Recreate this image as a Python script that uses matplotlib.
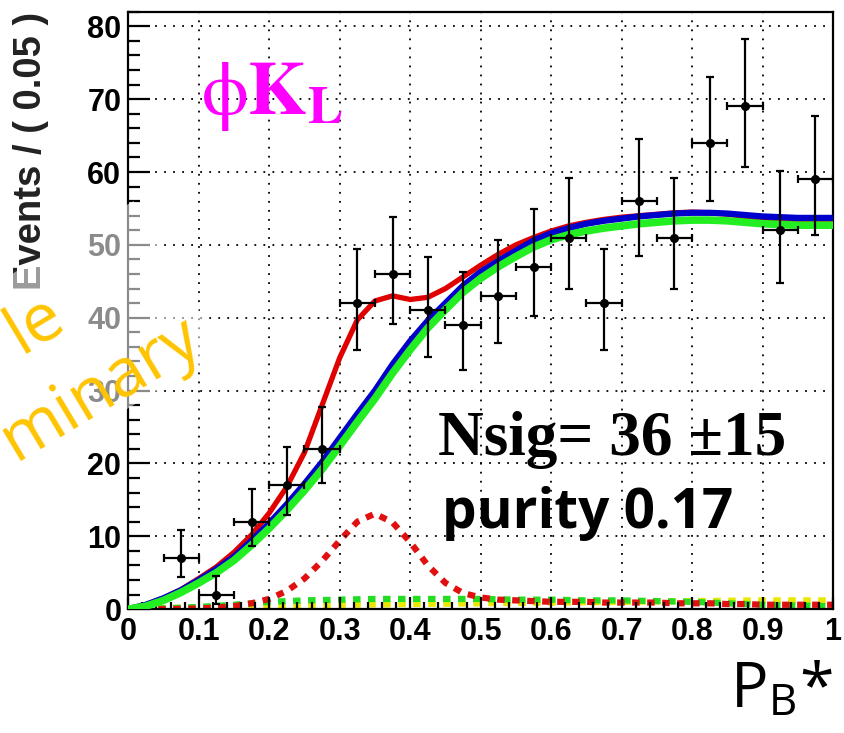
import numpy as np
import matplotlib.pyplot as plt
from matplotlib.patches import Rectangle
from matplotlib.ticker import MultipleLocator

plt.rcParams['mathtext.fontset'] = 'stix'

# binned data, bin width 0.05
bin_centres = [0.075, 0.125, 0.175, 0.225, 0.275, 0.325, 0.375, 0.425, 0.475,
               0.525, 0.575, 0.625, 0.675, 0.725, 0.775, 0.825, 0.875, 0.925, 0.975]
n_events = [7, 2, 12, 17, 22, 42, 46, 41, 39, 43, 47, 51, 42, 56, 51, 64, 69, 52, 59]
err_lo = [2.6, 1.3, 3.4, 4.1, 4.7, 6.5, 6.8, 6.4, 6.2, 6.5, 6.8, 7.1, 6.5, 7.5, 7.1, 8.0, 8.3, 7.2, 7.7]
err_hi = [3.8, 2.6, 4.5, 5.2, 5.8, 7.5, 7.8, 7.4, 7.3, 7.6, 7.9, 8.2, 7.5, 8.5, 8.2, 9.0, 9.3, 8.2, 8.7]

# fit projections sampled every 0.025
x_fit = np.round(np.arange(0, 1.0001, 0.025), 3)
total_fit = [0.0, 0.6, 1.5, 2.7, 4.2, 5.8, 7.8, 10.2, 13.2, 16.8, 21.5, 28.0, 34.5, 39.7,
             42.3, 43.0, 42.5, 42.8, 44.0, 45.6, 47.2, 48.7, 50.0, 51.0, 51.9, 52.6, 53.1,
             53.5, 53.8, 54.0, 54.2, 54.4, 54.5, 54.4, 54.2, 53.9, 53.6, 53.5, 53.4, 53.4, 53.4]
bkg_fit = [0.0, 0.6, 1.5, 2.6, 4.0, 5.5, 7.2, 9.4, 11.8, 14.4, 17.2, 20.2, 23.5, 26.8,
           30.0, 33.6, 36.8, 39.6, 42.0, 44.4, 46.3, 47.8, 49.2, 50.6, 51.6, 52.3, 52.9,
           53.3, 53.6, 53.9, 54.1, 54.3, 54.4, 54.4, 54.3, 54.1, 53.9, 53.8, 53.7, 53.7, 53.7]
qq_fit = [0.0, 0.4, 1.2, 2.3, 3.6, 5.0, 6.7, 8.8, 11.1, 13.6, 16.3, 19.2, 22.4, 25.7,
          28.9, 32.4, 35.6, 38.6, 41.1, 43.5, 45.4, 47.0, 48.4, 49.7, 50.7, 51.4, 51.9,
          52.3, 52.6, 52.9, 53.1, 53.3, 53.4, 53.4, 53.3, 53.1, 52.9, 52.8, 52.7, 52.7, 52.7]
sig_fit = [0.0, 0.0, 0.0, 0.05, 0.1, 0.2, 0.4, 0.8, 1.4, 2.5, 4.2, 6.6, 9.4, 12.0,
           13.1, 11.9, 9.2, 6.0, 3.6, 2.2, 1.6, 1.3, 1.2, 1.1, 1.0, 1.0, 1.0,
           0.9, 0.9, 0.9, 0.9, 0.8, 0.8, 0.8, 0.7, 0.7, 0.6, 0.6, 0.6, 0.6, 0.6]

# small peaking background components, sampled every 0.05 / 0.1
x_bb = np.round(np.arange(0, 1.0001, 0.05), 3)
bb_fit = [0.0, 0.1, 0.3, 0.6, 1.0, 1.2, 1.3, 1.4, 1.4, 1.4, 1.4, 1.3, 1.3, 1.2, 1.2,
          1.1, 1.0, 0.8, 0.6, 0.5, 0.4]
x_other = np.round(np.arange(0, 1.0001, 0.1), 3)
other_fit = [0.1, 0.2, 0.4, 0.6, 0.7, 0.8, 0.9, 1.0, 1.1, 1.2, 1.2]

fig = plt.figure(figsize=(8.44, 7.33), dpi=100)
ax = fig.add_axes([0.152, 0.169, 0.835, 0.815])

ax.plot(x_other, other_fit, color='#e8e800', lw=4.5, ls=(0, (1.2, 1.2)), zorder=2)
ax.plot(x_bb, bb_fit, color='#22dd22', lw=4.5, ls=(0, (1.2, 1.2)), zorder=2)
ax.plot(x_fit, sig_fit, color='#e01010', lw=4.5, ls=(0, (1.2, 1.2)), zorder=2)
ax.plot(x_fit, total_fit, color='#e00000', lw=3.8, zorder=3)
ax.plot(x_fit, bkg_fit, color='#0000cc', lw=4.5, zorder=4)
ax.plot(x_fit, qq_fit, color='#22ee22', lw=5.5, zorder=5)

ax.errorbar(bin_centres, n_events, yerr=[err_lo, err_hi], xerr=0.025,
            fmt='o', color='black', ms=5.5, elinewidth=1.6, capsize=3, capthick=1.6,
            zorder=6)

ax.set_xlim(0, 1)
ax.set_ylim(0, 82)
ax.xaxis.set_minor_locator(MultipleLocator(0.02))
ax.yaxis.set_major_locator(MultipleLocator(10))
ax.yaxis.set_minor_locator(MultipleLocator(2))
ax.set_xticks(np.round(np.arange(0, 1.0001, 0.1), 1))
ax.set_xticklabels(['0', '0.1', '0.2', '0.3', '0.4', '0.5', '0.6', '0.7', '0.8', '0.9', '1'])
ax.tick_params(which='both', direction='in', top=False, right=False, width=1.6)
ax.tick_params(axis='y', which='major', length=16, pad=5)
ax.tick_params(axis='y', which='minor', length=8.5)
ax.tick_params(axis='x', which='major', length=9, pad=6)
ax.tick_params(axis='x', which='minor', length=5)
for lab in ax.get_xticklabels() + ax.get_yticklabels():
    lab.set_fontfamily('Liberation Sans')
    lab.set_fontweight('bold')
    lab.set_fontsize(22)
for sp in ax.spines.values():
    sp.set_linewidth(1.6)
ax.grid(True, which='major', color='black', lw=1.3, ls=(0, (1, 4)))
ax.set_axisbelow(False)

ax.text(-0.138, 1.0, 'Events / ( 0.05 )', transform=ax.transAxes, rotation=90,
        ha='center', va='top', fontsize=27.5, fontweight='bold',
        family='Liberation Sans', color='#222222')

ax.text(0.103, 67.9, r'$\mathrm{\phi}\mathbf{K}_{\mathbf{L}}$', color='#ff00ff',
        fontsize=54, ha='left', va='baseline', zorder=7)
ax.text(0.44, 21.15, 'Nsig= 36 \u00b115', family='Liberation Serif',
        fontweight='bold', fontsize=45.5, ha='left', va='baseline', zorder=7)
ax.text(0.445, 11.1, 'purity 0.17', family='Open Sans', fontweight='bold',
        fontsize=39.5, ha='left', va='baseline', zorder=7)

# translucent label box with the watermark on top
fade = Rectangle((1.335 - 5.0, 5.32 - 1.75), 5.0, 1.75, angle=31,
                 rotation_point=(1.335, 5.32), transform=fig.dpi_scale_trans,
                 facecolor='white', edgecolor='none', alpha=0.55, zorder=1)
fig.add_artist(fade)
fig.text(68 / 844, 1 - 326 / 733, 'le', color='#ffc400', fontsize=49,
         family='Open Sans', rotation=31, rotation_mode='anchor',
         ha='right', va='baseline', zorder=5)
fig.text(205 / 844, 1 - 347 / 733, 'minary', color='#ffc400', fontsize=49,
         family='Open Sans', rotation=31, rotation_mode='anchor',
         ha='right', va='baseline', zorder=5)

fig.text(730 / 844, 1 - 708 / 733, r'P$_{\mathregular{B}}$*', fontsize=45,
         family='Open Sans', ha='left', va='baseline')

fig.savefig('out.png', dpi=100)
